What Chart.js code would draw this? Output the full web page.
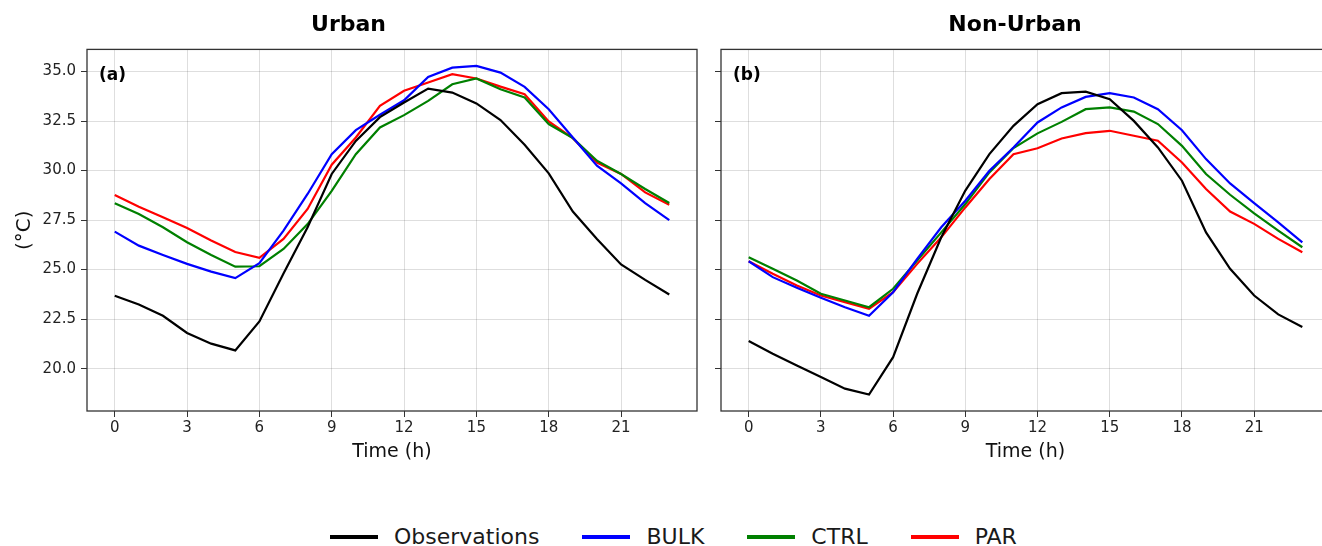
<!DOCTYPE html>
<html>
<head>
<meta charset="utf-8">
<script src="https://cdn.jsdelivr.net/npm/chart.js@4.4.1/dist/chart.umd.min.js"></script>
<style>
  html, body { margin: 0; padding: 0; background: #fff; overflow: hidden; }
  body { width: 1322px; height: 546px; position: relative; }
  #urban { position: absolute; left: 0; top: 0; }
  #rural { position: absolute; left: 700px; top: 0; }
  #legend { position: absolute; left: 330px; top: 524px; display: flex; align-items: center;
            font: 22px "DejaVu Sans"; color: #1a1a1a; line-height: 26px; white-space: nowrap; }
  #legend .sw { display: inline-block; width: 48px; height: 4px; margin-right: 16px; }
  #legend .it { display: flex; align-items: center; margin-right: 43px; }
</style>
</head>
<body>
<canvas id="urban" width="700" height="470"></canvas>
<canvas id="rural" width="632" height="470"></canvas>
<div id="legend"></div>
<script>
const hours = [0,1,2,3,4,5,6,7,8,9,10,11,12,13,14,15,16,17,18,19,20,21,22,23];
const xTicks = [0, 3, 6, 9, 12, 15, 18, 21];
const yTicks = [20, 22.5, 25, 27.5, 30, 32.5, 35];

const seriesNames = ["Observations", "BULK", "CTRL", "PAR"];
const seriesColors = ["#000000", "#0000ff", "#008000", "#ff0000"];

// urban
const urbanObs  = [23.68, 23.24, 22.67, 21.80, 21.26, 20.92, 22.38, 24.80, 27.14, 29.83, 31.50, 32.70, 33.44, 34.14, 33.94, 33.39, 32.55, 31.30, 29.86, 27.93, 26.55, 25.26, 24.48, 23.74];
const urbanBulk = [26.92, 26.21, 25.74, 25.29, 24.90, 24.57, 25.32, 26.97, 28.82, 30.83, 32.04, 32.82, 33.55, 34.73, 35.20, 35.29, 34.95, 34.23, 33.10, 31.67, 30.25, 29.35, 28.36, 27.50];
const urbanCtrl = [28.35, 27.81, 27.14, 26.38, 25.74, 25.15, 25.17, 26.04, 27.30, 28.98, 30.83, 32.18, 32.80, 33.52, 34.36, 34.65, 34.11, 33.69, 32.35, 31.64, 30.50, 29.83, 29.07, 28.36];
const urbanPar  = [28.77, 28.18, 27.64, 27.10, 26.47, 25.89, 25.59, 26.55, 28.06, 30.30, 31.67, 33.27, 34.03, 34.45, 34.87, 34.65, 34.24, 33.86, 32.48, 31.64, 30.41, 29.83, 28.90, 28.28];

// non-urban
const ruralObs  = [21.39, 20.75, 20.16, 19.58, 18.99, 18.69, 20.58, 23.78, 26.63, 28.99, 30.83, 32.26, 33.35, 33.91, 33.99, 33.61, 32.51, 31.17, 29.49, 26.88, 25.04, 23.69, 22.74, 22.10];
const ruralBulk = [25.42, 24.62, 24.08, 23.58, 23.10, 22.67, 23.86, 25.54, 27.14, 28.48, 29.99, 31.17, 32.43, 33.19, 33.72, 33.91, 33.69, 33.10, 32.04, 30.58, 29.35, 28.36, 27.39, 26.38];
const ruralCtrl = [25.62, 25.04, 24.45, 23.78, 23.44, 23.10, 24.03, 25.46, 26.88, 28.31, 29.91, 31.14, 31.88, 32.46, 33.10, 33.19, 32.98, 32.35, 31.25, 29.83, 28.78, 27.84, 26.97, 26.13];
const ruralPar  = [25.42, 24.79, 24.20, 23.69, 23.36, 23.02, 23.86, 25.29, 26.63, 28.14, 29.57, 30.83, 31.13, 31.62, 31.89, 32.01, 31.76, 31.51, 30.41, 29.07, 27.93, 27.31, 26.55, 25.88];

Chart.defaults.font.family = '"DejaVu Sans"';
Chart.defaults.color = '#222';

// box round the plot + (a)/(b) tag
const framePlugin = {
  id: 'frame',
  afterDraw(chart, args, opts) {
    const ctx = chart.ctx;
    const a = chart.chartArea;
    ctx.save();
    ctx.strokeStyle = '#333';
    ctx.lineWidth = 1.3;
    ctx.strokeRect(a.left, a.top, a.right - a.left, a.bottom - a.top);
    ctx.font = 'bold 17px "DejaVu Sans"';
    ctx.fillStyle = '#000';
    ctx.textBaseline = 'middle';
    ctx.fillText(opts.tag, a.left + 12, a.top + 26);
    ctx.restore();
  }
};

function makeSets(series) {
  return series.map(function(vals, i) {
    return {
      label: seriesNames[i],
      data: hours.map(function(h, j) { return {x: h, y: vals[j]}; }),
      borderColor: seriesColors[i],
      backgroundColor: seriesColors[i],
      borderWidth: 2.2,
      pointRadius: 0,
      tension: 0
    };
  });
}

function makeConfig(title, tag, series, showY, yWidth, padRight) {
  return {
    type: 'line',
    data: { datasets: makeSets(series) },
    plugins: [framePlugin],
    options: {
      responsive: false,
      animation: false,
      devicePixelRatio: 1,
      layout: { padding: { left: 0, right: padRight, top: 0, bottom: 0 } },
      plugins: {
        legend: { display: false },
        tooltip: { enabled: false },
        title: {
          display: true,
          text: title,
          color: '#000',
          font: { size: 22, weight: 'bold' },
          padding: { top: 12, bottom: 11 }
        },
        frame: { tag: tag }
      },
      scales: {
        x: {
          type: 'linear',
          min: -1.15,
          max: 24.15,
          afterBuildTicks: function(s) { s.ticks = xTicks.map(function(v) { return {value: v}; }); },
          afterFit: function(s) { s.height = 59; },
          ticks: { font: { size: 15 }, padding: 2, maxRotation: 0, color: '#222' },
          grid: { color: 'rgba(0,0,0,0.13)', lineWidth: 1, tickLength: 6, tickColor: '#333' },
          border: { display: false },
          title: { display: true, text: 'Time (h)', color: '#111', font: { size: 19 }, padding: { top: 0, bottom: 7 } }
        },
        y: {
          min: 17.86,
          max: 36.12,
          afterBuildTicks: function(s) { s.ticks = yTicks.map(function(v) { return {value: v}; }); },
          afterFit: function(s) { s.width = yWidth; },
          ticks: { display: showY, font: { size: 15 }, padding: 5, color: '#222',
                   callback: function(v) { return v.toFixed(1); } },
          grid: { color: 'rgba(0,0,0,0.13)', lineWidth: 1, tickLength: 6, tickColor: '#333' },
          border: { display: false },
          title: { display: showY, text: '(°C)', color: '#111', font: { size: 20 }, padding: { top: 13, bottom: 0 } }
        }
      }
    }
  };
}

const urbanChart = new Chart(document.getElementById('urban'),
  makeConfig('Urban', '(a)', [urbanObs, urbanBulk, urbanCtrl, urbanPar], true, 87, 3));
const ruralChart = new Chart(document.getElementById('rural'),
  makeConfig('Non-Urban', '(b)', [ruralObs, ruralBulk, ruralCtrl, ruralPar], false, 21, 2));

// legend under both panels
const legendBox = document.getElementById('legend');
seriesNames.forEach(function(name, i) {
  const item = document.createElement('div');
  item.className = 'it';
  const sw = document.createElement('span');
  sw.className = 'sw';
  sw.style.background = seriesColors[i];
  item.appendChild(sw);
  item.appendChild(document.createTextNode(name));
  legendBox.appendChild(item);
});
</script>
</body>
</html>
